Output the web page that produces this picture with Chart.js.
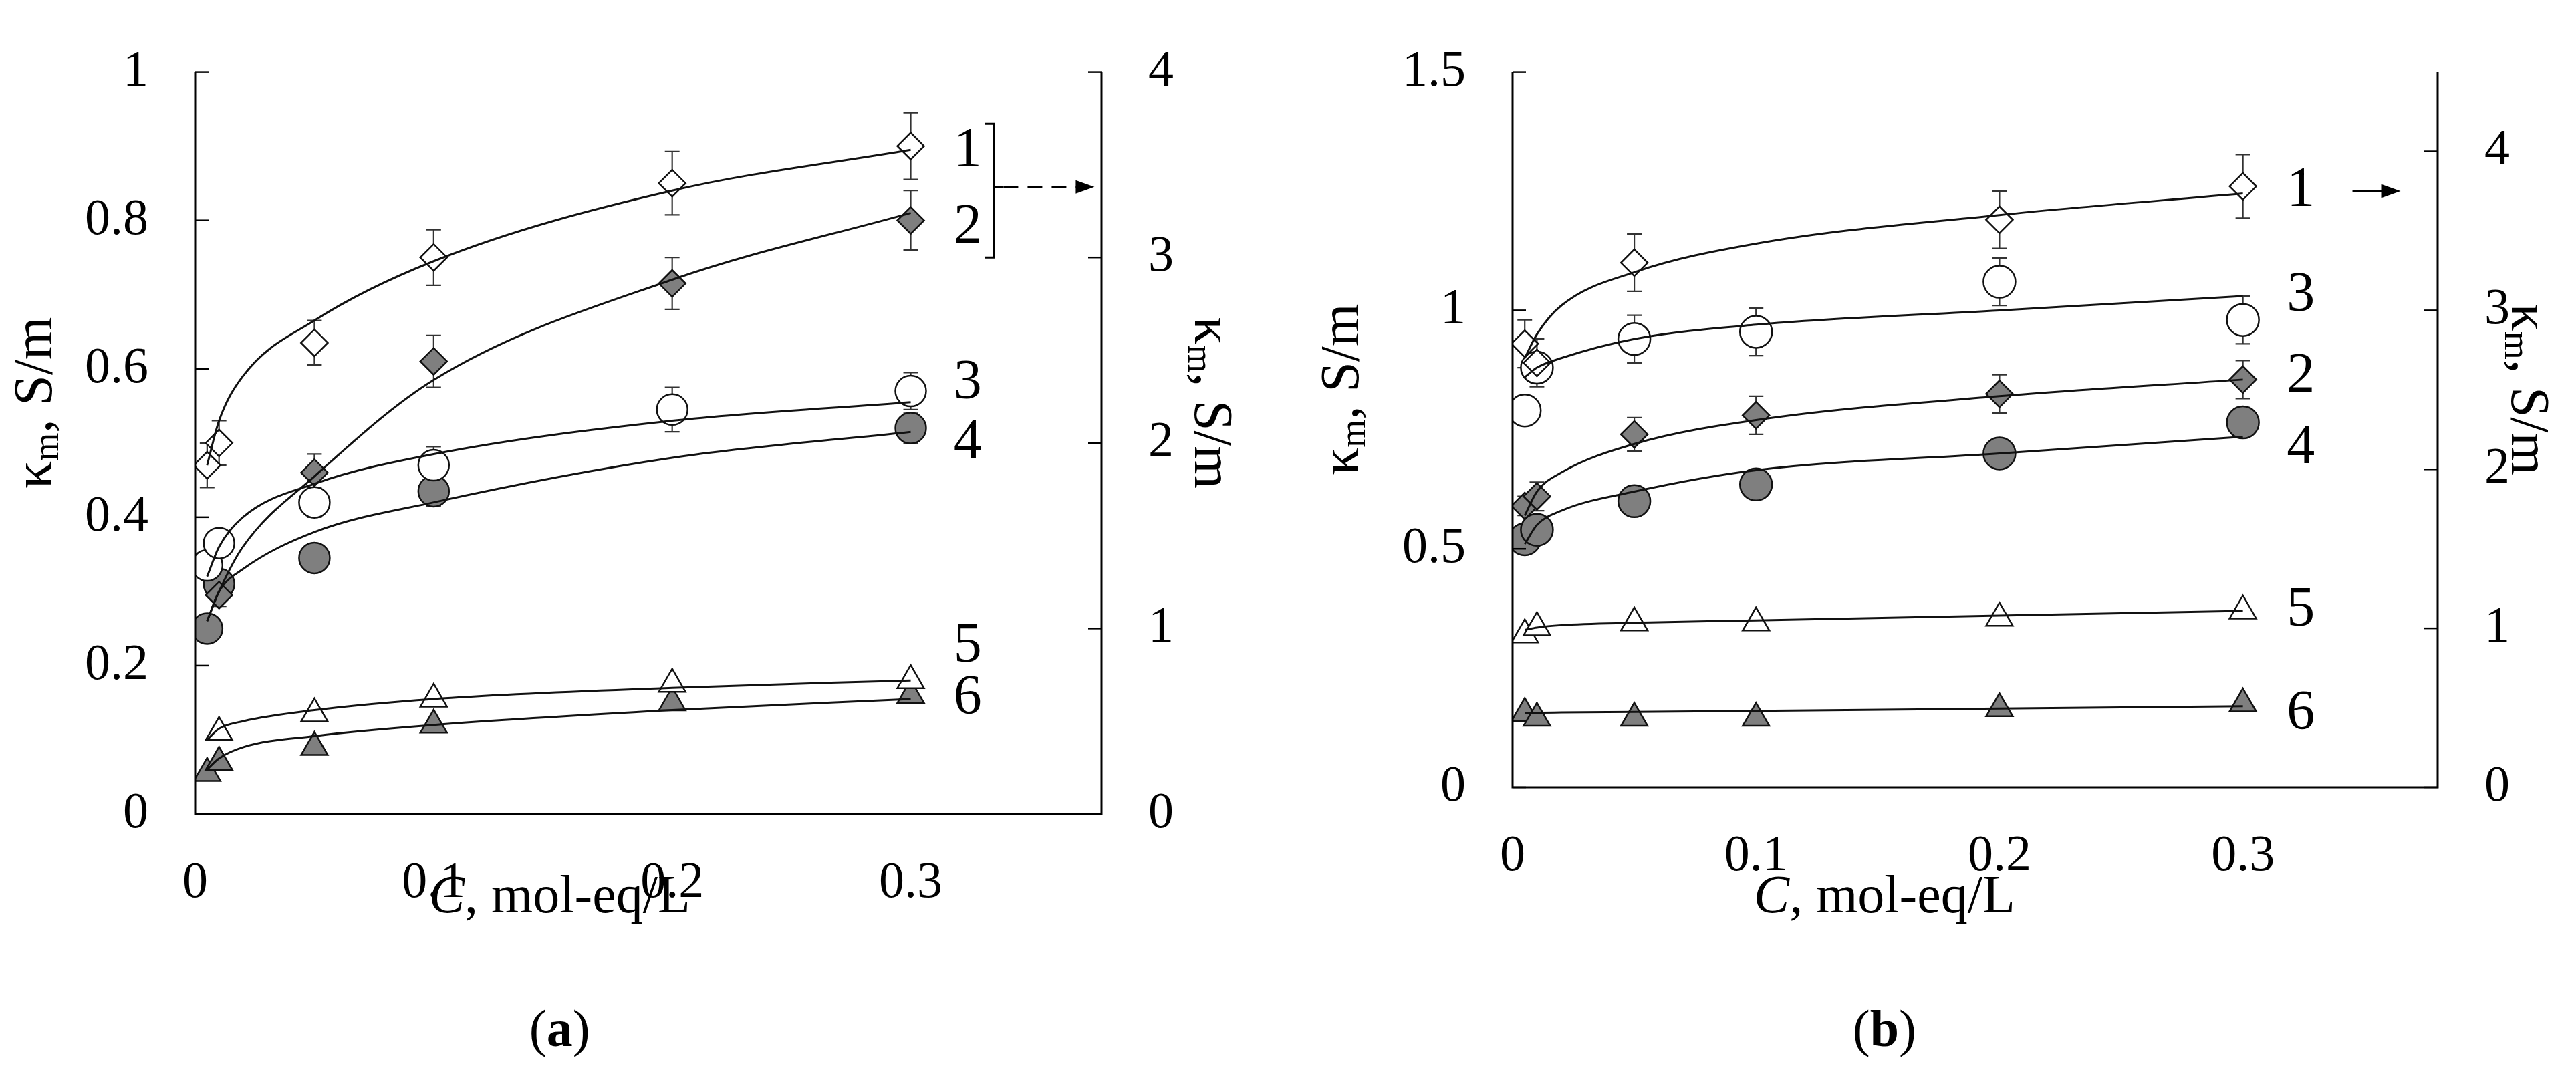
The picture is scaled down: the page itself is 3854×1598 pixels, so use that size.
<!DOCTYPE html>
<html><head><meta charset="utf-8">
<script src="https://cdn.jsdelivr.net/npm/chart.js@4"></script>
<style>body{margin:0;background:#fff;width:3854px;height:1598px;overflow:hidden}
canvas{position:absolute;top:0}</style></head><body>
<canvas id="ca" style="left:0"></canvas><canvas id="cb" style="left:1900px"></canvas>
<script>
// ---- data (panel a, left-axis units S/m; series 1,2 belong to right axis -> x4) ----
const xPts = [0.005, 0.01, 0.05, 0.1, 0.2, 0.3];
const xFit = [0.005, 0.01, 0.02, 0.05, 0.1, 0.2, 0.3];
const xTicks = [0, 0.1, 0.2, 0.3];
const aLeftTicks = [0, 0.2, 0.4, 0.6, 0.8, 1];
const aRightTicks = [0, 1, 2, 3, 4];
const bLeftTicks = [0, 0.5, 1, 1.5];
const bRightTicks = [0, 1, 2, 3, 4];

const a1 = [1.88, 2.00, 2.54, 3.00, 3.40, 3.60];   // right axis
const a1err = [0.12, 0.12, 0.12, 0.15, 0.17, 0.18];
const a2 = [null, 1.18, 1.84, 2.44, 2.86, 3.20];  // right axis
const a2err = [0, 0.06, 0.1, 0.14, 0.14, 0.16];
const a3 = [0.335, 0.365, 0.42, 0.47, 0.545, 0.57];
const a3err = [0, 0, 0.02, 0.025, 0.03, 0.025];
const a4 = [0.25, 0.31, 0.345, 0.435, null, 0.52];
const a4err = [0, 0, 0.015, 0.02, 0, 0.02];
const a5 = [null, 0.11, 0.135, 0.155, 0.175, 0.18];
const a6 = [0.055, 0.07, 0.09, 0.12, 0.15, 0.16];
const aF1 = [1.88, 2.12, 2.36, 2.66, 2.98, 3.36, 3.58];
const aF2 = [1.04, 1.20, 1.44, 1.82, 2.34, 2.88, 3.24];
const aF3 = [0.32, 0.36, 0.40, 0.445, 0.485, 0.53, 0.555];
const aF4 = [0.26, 0.30, 0.33, 0.38, 0.42, 0.48, 0.515];
const aF5 = [0.10, 0.115, 0.125, 0.14, 0.155, 0.17, 0.18];
const aF6 = [0.06, 0.075, 0.09, 0.105, 0.12, 0.14, 0.155];

// ---- panel b (left units; series 1 on right axis = x3) ----
const b1 = [2.79, 2.67, 3.30, null, 3.57, 3.78];
const b1err = [0.15, 0.15, 0.18, 0, 0.18, 0.2];
const b3 = [0.79, 0.88, 0.94, 0.955, 1.06, 0.98];
const b3err = [0.03, 0.03, 0.05, 0.05, 0.05, 0.05];
const b2 = [0.59, 0.61, 0.74, 0.78, 0.825, 0.855];
const b2err = [0.02, 0.03, 0.035, 0.04, 0.04, 0.04];
const b4 = [0.52, 0.54, 0.60, 0.635, 0.70, 0.765];
const b4err = [0, 0, 0, 0, 0.02, 0.02];
const b5 = [0.32, 0.335, 0.345, 0.345, 0.355, 0.37];
const b6 = [0.155, 0.145, 0.145, 0.145, 0.165, 0.175];
const bF1 = [2.70, 2.85, 3.03, 3.24, 3.42, 3.60, 3.735];
const bF3 = [0.86, 0.88, 0.90, 0.94, 0.97, 1.00, 1.03];
const bF2 = [0.57, 0.62, 0.66, 0.72, 0.77, 0.82, 0.855];
const bF4 = [0.51, 0.55, 0.58, 0.62, 0.665, 0.70, 0.735];
const bF5 = [0.33, 0.335, 0.34, 0.345, 0.35, 0.36, 0.37];
const bF6 = [0.155, 0.156, 0.157, 0.158, 0.16, 0.165, 0.17];

const aLabels = [["1",3.57,"y1"],["2",3.16,"y1"],["3",0.58,"y"],["4",0.50,"y"],["5",0.225,"y"],["6",0.155,"y"]];
const bLabels = [["1",3.75,"y1"],["3",1.03,"y"],["2",0.86,"y"],["4",0.71,"y"],["5",0.37,"y"],["6",0.153,"y"]];

const GRAY = '#7f7f7f', FONT = '"Liberation Serif", "Times New Roman", serif';
const pts = (ys)=>xPts.map((x,i)=>ys[i]==null?null:{x, y:ys[i]}).filter(p=>p);
const fit = (ys)=>xFit.map((x,i)=>({x, y:ys[i]}));
function sc(data, style, fill, r, axis, err){
  return {type:'scatter', data:pts(data), yAxisID:axis, pointStyle:style, pointRadius:r,
    pointBackgroundColor:fill, pointBorderColor:'#111', pointBorderWidth:2.5, showLine:false,
    err: err ? xPts.map((x,i)=>data[i]==null?null:{x,y:data[i],e:err[i]}).filter(p=>p && p.e>0):null};
}
function ln(data, axis){
  return {type:'line', data:fit(data), yAxisID:axis, borderColor:'#111', borderWidth:3, pointRadius:0, tension:0.4, cubicInterpolationMode:'monotone', fill:false};
}

function makeChart(id, W, geo, sets, yMax, y1Max, lt, rt, labels, extra, tag){
  const cv = document.getElementById(id); cv.width=W; cv.height=1598; cv.style.width=W+'px'; cv.style.height='1598px';
  const deco = {id:'deco',
    beforeDatasetsDraw(ch){
      const c=ch.ctx, xs=ch.scales.x;
      c.save(); c.strokeStyle='#333'; c.lineWidth=2.2;
      ch.data.datasets.forEach(ds=>{ if(!ds.err) return; const ys=ch.scales[ds.yAxisID];
        ds.err.forEach(p=>{const px=xs.getPixelForValue(p.x), t=ys.getPixelForValue(p.y+p.e), b=ys.getPixelForValue(p.y-p.e);
          c.beginPath(); c.moveTo(px,t); c.lineTo(px,b); c.moveTo(px-11,t); c.lineTo(px+11,t); c.moveTo(px-11,b); c.lineTo(px+11,b); c.stroke();});});
      c.restore();
    },
    afterDraw(ch){
      const c=ch.ctx, a=ch.chartArea, xs=ch.scales.x, yl=ch.scales.y, yr=ch.scales.y1;
      c.save(); c.strokeStyle='#000'; c.lineWidth=3;
      c.beginPath(); c.moveTo(a.left,a.top); c.lineTo(a.left,a.bottom); c.lineTo(a.right,a.bottom); c.lineTo(a.right,a.top); c.stroke();
      c.lineWidth=2.5;
      yl.ticks.forEach(t=>{const y=yl.getPixelForValue(t.value); c.beginPath(); c.moveTo(a.left,y); c.lineTo(a.left+20,y); c.stroke();});
      yr.ticks.forEach(t=>{const y=yr.getPixelForValue(t.value); c.beginPath(); c.moveTo(a.right,y); c.lineTo(a.right-20,y); c.stroke();});
      c.fillStyle='#000'; c.font='84px '+FONT; c.textBaseline='middle'; c.textAlign='left';
      labels.forEach(L=>{c.fillText(L[0], xs.getPixelForValue(0.318), ch.scales[L[2]].getPixelForValue(L[1]));});
      extra(c, xs, ch.scales);
      c.textAlign='center'; c.textBaseline='alphabetic';
      const xt=a.left+(xs.getPixelForValue(0.3)-a.left)/2+10, ty=geo.xTitleY;
      c.font='italic 80px '+FONT; const w1=c.measureText('C').width; c.font='80px '+FONT; const w2=c.measureText(', mol-eq/L').width;
      c.textAlign='left'; c.font='italic 80px '+FONT; c.fillText('C', xt-(w1+w2)/2, ty); c.font='80px '+FONT; c.fillText(', mol-eq/L', xt-(w1+w2)/2+w1, ty);
      c.font='78px '+FONT; const wp=c.measureText('()').width; c.font='bold 78px '+FONT; const wb=c.measureText(tag).width;
      let sx=xt-(wp+wb)/2; c.font='78px '+FONT; c.fillText('(',sx,geo.tagY); sx+=c.measureText('(').width;
      c.font='bold 78px '+FONT; c.fillText(tag,sx,geo.tagY); sx+=wb; c.font='78px '+FONT; c.fillText(')',sx,geo.tagY);
      function kappa(x,y,rot){ c.save(); c.translate(x,y); c.rotate(rot); c.textBaseline='middle';
        c.font='82px '+FONT; const k=c.measureText('κ').width; c.font='54px '+FONT; const m=c.measureText('m').width; c.font='82px '+FONT; const r=c.measureText(', S/m').width;
        let s=-(k+m+r)/2; c.textAlign='left'; c.fillText('κ',s,0); s+=k; c.font='54px '+FONT; c.fillText('m',s,18); s+=m; c.font='82px '+FONT; c.fillText(', S/m',s,0); c.restore();}
      const yc=(a.top+a.bottom)/2-60;
      kappa(geo.lTitleX, yc, -Math.PI/2); kappa(geo.rTitleX, yc, Math.PI/2);
      c.restore();
    }};
  const tickFix = (arr)=>function(s){ s.ticks = arr.map(v=>({value:v})); };
  new Chart(cv, {data:{datasets:sets}, plugins:[deco],
    options:{responsive:false, animation:false, events:[], layout:{padding:{top:geo.top,left:0,right:0,bottom:0}},
      plugins:{legend:{display:false}, tooltip:{enabled:false}},
      scales:{
        x:{type:'linear', min:0, max:0.38, grid:{display:false}, border:{display:false}, afterBuildTicks:tickFix(xTicks),
           afterFit(s){s.height=1598-geo.bottom;}, ticks:{padding:geo.xpad, color:'#000', font:{family:FONT,size:76}, callback:v=>String(v)}},
        y:{type:'linear', position:'left', min:0, max:yMax, grid:{display:false}, border:{display:false}, afterBuildTicks:tickFix(lt),
           afterFit(s){s.width=geo.left;}, ticks:{padding:geo.ypad, color:'#000', font:{family:FONT,size:76}, callback:v=>String(v)}},
        y1:{type:'linear', position:'right', min:0, max:y1Max, grid:{display:false}, border:{display:false}, afterBuildTicks:tickFix(rt),
           afterFit(s){s.width=W-geo.right;}, ticks:{padding:geo.ypad, color:'#000', font:{family:FONT,size:76}, callback:v=>String(v)}}
      }}});
}

makeChart('ca', 1900, {top:44,bottom:1218,left:292,right:1648,xpad:50,ypad:62,xTitleY:1365,tagY:1565,lTitleX:55,rTitleX:1810},
  [ln(aF1,'y1'),ln(aF2,'y1'),ln(aF3,'y'),ln(aF4,'y'),ln(aF5,'y'),ln(aF6,'y'),
   sc(a1,'rectRot','#fff',20,'y1',a1err), sc(a2,'rectRot',GRAY,20,'y1',a2err),
   sc(a3,'circle','#fff',23,'y',a3err), sc(a4,'circle',GRAY,23,'y',a4err),
   sc(a5,'triangle','#fff',23,'y',null), sc(a6,'triangle',GRAY,23,'y',null)],
  1, 4, aLeftTicks, aRightTicks, aLabels,
  function(c, xs, S){ const y=S.y1, bx=xs.getPixelForValue(0.335), t=y.getPixelForValue(3.72), b=y.getPixelForValue(3.0), m=y.getPixelForValue(3.38);
    c.lineWidth=3; c.beginPath(); c.moveTo(bx-14,t); c.lineTo(bx,t); c.lineTo(bx,b); c.lineTo(bx-14,b); c.moveTo(bx,m); c.lineTo(bx+14,m); c.stroke();
    c.setLineDash([22,14]); c.beginPath(); c.moveTo(bx+14,m); c.lineTo(bx+130,m); c.stroke(); c.setLineDash([]);
    c.beginPath(); c.moveTo(bx+150,m); c.lineTo(bx+122,m-10); c.lineTo(bx+122,m+10); c.closePath(); c.fill(); }, 'a');

makeChart('cb', 1954, {top:44,bottom:1178,left:363,right:1747,xpad:50,ypad:62,xTitleY:1365,tagY:1565,lTitleX:110,rTitleX:1880},
  [ln(bF1,'y1'),ln(bF3,'y'),ln(bF2,'y'),ln(bF4,'y'),ln(bF5,'y'),ln(bF6,'y'),
   sc(b1,'rectRot','#fff',20,'y1',b1err), sc(b3,'circle','#fff',24,'y',b3err),
   sc(b2,'rectRot',GRAY,20,'y',b2err), sc(b4,'circle',GRAY,24,'y',b4err),
   sc(b5,'triangle','#fff',23,'y',null), sc(b6,'triangle',GRAY,23,'y',null)],
  1.5, 4.5, bLeftTicks, bRightTicks, bLabels,
  function(c, xs, S){ const y=S.y1.getPixelForValue(3.75), x0=xs.getPixelForValue(0.345);
    c.lineWidth=3; c.beginPath(); c.moveTo(x0,y); c.lineTo(x0+50,y); c.stroke();
    c.beginPath(); c.moveTo(x0+72,y); c.lineTo(x0+44,y-10); c.lineTo(x0+44,y+10); c.closePath(); c.fill(); }, 'b');
</script></body></html>
